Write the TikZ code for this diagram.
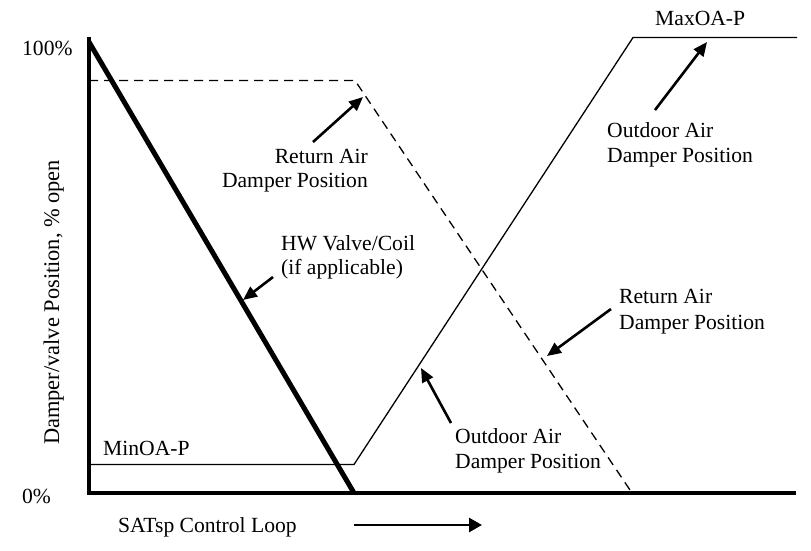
\documentclass[tikz,border=0pt]{standalone}
\usepackage{fontspec}
\setmainfont{Liberation Serif}
\usetikzlibrary{arrows.meta}
\begin{document}
\begin{tikzpicture}[x=1pt,y=-1pt,
  txt/.style={font=\fontsize{21.6}{24}\selectfont, inner sep=0pt},
  ytxt/.style={font=\fontsize{22.4}{24}\selectfont, inner sep=0pt},
  axisline/.style={line width=4pt},
  hwline/.style={line width=5pt},
  thinline/.style={line width=1.3pt},
  dashline/.style={line width=1.3pt, dash pattern=on 9pt off 6pt},
  ptr/.style={line width=2.6pt, -{Triangle[length=14pt,width=12pt]}},
  loopptr/.style={line width=2.8pt, -{Triangle[length=13pt,width=14pt]}}
]
\useasboundingbox (0,0) rectangle (811,550);

% axes
\coordinate (T) at (89,37);
\coordinate (O) at (89,493);
\coordinate (E) at (796,493);
\draw[axisline] (T) -- (O) -- (E);

% HW valve line
\coordinate (hw0) at (89,42);
\coordinate (hw1) at (354,493);
\draw[hwline] (hw0) -- (hw1);

% return air damper (dashed)
\coordinate (ra0) at (89,80.5);
\coordinate (ra1) at (355,80.5);
\coordinate (ra2) at (632,493);
\draw[dashline] (ra0) -- (ra1) -- (ra2);

% outdoor air damper (thin)
\coordinate (oa0) at (89,464.5);
\coordinate (oa1) at (354,464.5);
\coordinate (oa2) at (633,37.5);
\coordinate (oa3) at (797,37.5);
\draw[thinline] (oa0) -- (oa1) -- (oa2) -- (oa3);

% axis labels
\node[txt,anchor=base west] (p100) at (22,55) {100\%};
\node[txt,anchor=base west] (p0) at (22,503) {0\%};
\node[ytxt,anchor=base west,rotate=90] (ylab) at (59,445) {Damper/valve Position, \% open};
\node[txt,anchor=base west] (sat) at (118,532) {SATsp Control Loop};
\coordinate (la) at (354,525);
\coordinate (lb) at (482,525);
\draw[loopptr] (la) -- (lb);

% level labels
\node[txt,anchor=base west] (maxoa) at (655,25) {MaxOA-P};
\node[txt,anchor=base west] (minoa) at (103,455) {MinOA-P};

% annotation: return air (top)
\node[txt,anchor=base east] (raA1) at (368,163) {Return Air};
\node[txt,anchor=base east] (raA2) at (368,187) {Damper Position};
\coordinate (raAt) at (313,142);
\coordinate (raAh) at (363,97);
\draw[ptr] (raAt) -- (raAh);

% annotation: outdoor air (top)
\node[txt,anchor=base west] (oaA1) at (607,137) {Outdoor Air};
\node[txt,anchor=base west] (oaA2) at (607,162) {Damper Position};
\coordinate (oaAt) at (655,110);
\coordinate (oaAh) at (707,42);
\draw[ptr] (oaAt) -- (oaAh);

% annotation: HW valve
\node[txt,anchor=base west] (hwA1) at (281,250) {HW Valve/Coil};
\node[txt,anchor=base west] (hwA2) at (281,274) {(if applicable)};
\coordinate (hwAt) at (273,277);
\coordinate (hwAh) at (243,300);
\draw[ptr] (hwAt) -- (hwAh);

% annotation: return air (right)
\node[txt,anchor=base west] (raB1) at (619,303) {Return Air};
\node[txt,anchor=base west] (raB2) at (619,329) {Damper Position};
\coordinate (raBt) at (611,309);
\coordinate (raBh) at (547,356);
\draw[ptr] (raBt) -- (raBh);

% annotation: outdoor air (bottom)
\node[txt,anchor=base west] (oaB1) at (455,443) {Outdoor Air};
\node[txt,anchor=base west] (oaB2) at (455,468) {Damper Position};
\coordinate (oaBt) at (451,423);
\coordinate (oaBh) at (421,368);
\draw[ptr] (oaBt) -- (oaBh);
\end{tikzpicture}
\end{document}
